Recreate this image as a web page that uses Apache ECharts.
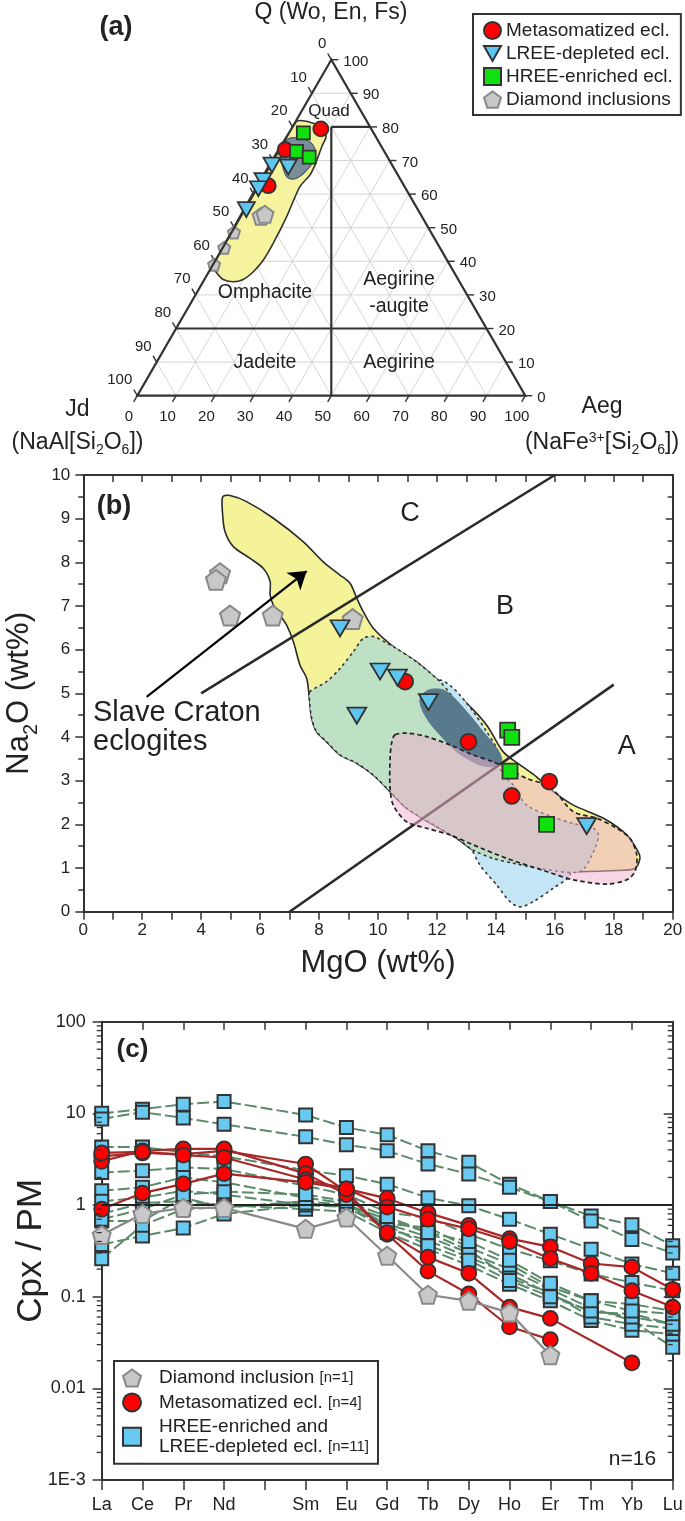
<!DOCTYPE html>
<html>
<head>
<meta charset="utf-8">
<script src="https://cdn.jsdelivr.net/npm/echarts@6.0.0/dist/echarts.min.js"></script>
<style>
html,body{margin:0;padding:0;background:#ffffff;}
#chart{width:685px;height:1521px;}
</style>
</head>
<body>
<div id="chart"></div>
<script>
// ================= DATA =================
// ---- Panel (a): ternary diagram, compositions as [Q, Jd, Aeg] (%)
const ternTicks = [0,10,20,30,40,50,60,70,80,90,100];
const ternTickLabels = ['0','10','20','30','40','50','60','70','80','90','100'];
const aMetasomatized = [[79.4,13.0,7.6],[73.2,25.3,1.5],[62.5,35.0,2.5]];
const aHREEenriched  = [[78.2,18.1,3.7],[72.7,22.6,4.7],[71.0,20.2,8.8]];
const aLREEdepleted  = [[68.6,31.0,0.4],[68.0,27.1,4.9],[64.0,35.6,0.4],[61.6,38.0,0.4],[55.4,44.2,0.4]];
const aDiamond       = [[53.4,41.4,5.2],[54.0,40.1,5.9],[48.6,50.8,0.6],[44.0,55.6,0.4],[39.0,60.7,0.3]];
const aSlaveField = [[81.5,18.3,0.2],[81.1,14.1,4.8],[79.6,12.3,8.1],[77.1,12.8,10.1],[74.1,15.4,10.5],
  [68.7,19.85,11.45],[65.7,22.65,11.65],[62.2,27.0,10.8],[53.3,34.85,11.85],[45.4,42.25,12.35],
  [40.4,47.3,12.3],[36.9,51.65,11.45],[34.6,55.4,10.0],[33.9,58.3,7.8],[34.6,60.54,4.86],
  [36.4,61.2,2.4],[38.6,61.2,0.2]];
const aDarkField = [[76.4,22.96,0.64],[76.7,19.72,3.58],[75.5,17.74,6.76],[73.1,17.65,9.25],
  [69.6,19.92,10.48],[66.3,23.89,9.81],[64.5,27.36,8.14],[65.1,28.87,6.03],[67.8,28.55,3.65],
  [70.7,27.61,1.69],[73.7,25.86,0.44]];
const aBoundaries = [[[80,10,10],[80,0,20]],[[20,80,0],[20,0,80]],[[80,10,10],[0,50,50]]];
const aLegendNames = ['Metasomatized ecl.','LREE-depleted ecl.','HREE-enriched ecl.','Diamond inclusions'];

// ---- Panel (b): MgO (wt%) vs Na2O (wt%)
const bMetasomatized = [[10.92,5.27],[13.07,3.89],[14.54,2.65],[15.81,2.98]];
const bLREEdepleted  = [[8.71,6.49],[10.07,5.50],[10.66,5.36],[11.71,4.80],[9.28,4.49],[17.08,1.96]];
const bHREEenriched  = [[14.40,4.16],[14.54,3.99],[14.48,3.22],[15.72,2.00]];
const bDiamond       = [[4.64,7.75],[4.50,7.60],[4.98,6.78],[6.43,6.78],[9.14,6.70]];
const bDivideCB = [[4,5],[16,10]];
const bDivideBA = [[7,0],[18,5.2]];
const bArrow = [[2.15,4.92],[7.58,7.80]];
const bSlaveField = [[4.73,9.50],[4.98,9.53],[5.54,9.39],[6.45,9.01],[7.47,8.47],[8.14,8.01],[8.71,7.71],
  [9.05,7.52],[9.28,7.18],[9.50,6.87],[9.84,6.49],[10.52,6.07],[11.31,5.72],[12.10,5.27],[13.01,4.77],
  [13.69,4.27],[14.25,3.66],[14.82,3.36],[15.38,3.09],[15.95,2.75],[16.63,2.44],[17.65,2.14],[18.44,1.76],
  [18.83,1.37],[18.89,1.22],[18.72,0.99],[18.33,0.95],[16.63,0.92],[15.50,0.99],[14.59,1.11],[13.91,1.22],
  [13.23,1.41],[12.67,1.68],[11.88,1.99],[10.97,2.37],[10.41,2.75],[9.84,3.13],[9.28,3.40],[8.71,3.59],
  [8.26,3.89],[7.92,4.12],[7.75,4.43],[7.67,4.89],[7.58,5.34],[7.35,5.65],[7.13,6.18],[6.90,6.56],
  [6.67,6.79],[6.45,7.02],[6.34,7.25],[6.34,7.56],[6.11,7.86],[5.66,8.09],[5.09,8.36],[4.81,8.70],[4.73,9.08]];
const bBlueField = [[12.10,5.30],[12.50,5.15],[12.78,4.96],[13.23,4.58],[13.69,4.12],[14.03,3.74],[14.15,3.45],
  [13.80,3.00],[15.50,1.50],[16.30,1.10],[16.52,0.84],[15.95,0.54],[15.27,0.23],[14.82,0.11],[14.48,0.23],
  [14.03,0.61],[13.46,1.07],[13.12,1.53],[12.50,2.50],[11.80,4.00],[11.60,5.00]];
const bGreenField = [[7.69,5.04],[8.26,5.27],[8.71,5.57],[9.16,5.95],[9.50,6.26],[9.84,6.30],[10.30,6.15],
  [10.52,6.07],[11.31,5.72],[12.10,5.27],[12.50,4.95],[13.10,4.35],[13.60,3.85],[14.00,3.45],[14.30,3.10],
  [14.59,2.90],[15.05,2.44],[16.06,2.14],[16.63,2.02],[17.31,1.91],[17.48,1.76],[17.31,1.37],[16.86,0.92],
  [15.50,0.99],[14.59,1.11],[13.91,1.22],[13.23,1.41],[12.67,1.68],[11.88,1.99],[10.97,2.37],[10.41,2.75],
  [9.84,3.13],[9.28,3.40],[8.71,3.59],[8.26,3.89],[7.92,4.12],[7.75,4.43],[7.67,4.89]];
const bDarkField = [[11.88,5.10],[12.33,5.04],[13.01,4.58],[13.57,4.12],[14.03,3.74],[14.20,3.51],[14.14,3.40],
  [13.91,3.32],[13.50,3.35],[13.23,3.43],[12.67,3.66],[12.10,4.05],[11.65,4.43],[11.42,4.81],[11.54,5.00]];
const bDashedField = [[10.58,4.05],[10.97,4.09],[11.65,4.01],[12.44,3.82],[13.23,3.59],[13.91,3.43],[14.59,3.21],
  [15.05,3.05],[15.72,2.90],[16.06,2.71],[16.63,2.29],[17.42,2.14],[18.10,1.91],[18.55,1.68],[18.78,1.30],
  [18.72,0.92],[18.44,0.73],[17.76,0.63],[16.63,0.73],[15.72,0.92],[14.37,1.22],[13.23,1.53],[12.44,1.76],
  [11.65,1.91],[10.97,2.06],[10.52,2.44],[10.41,2.83],[10.41,3.51],[10.47,3.89]];

// ---- Panel (c): Cpx / primitive mantle REE patterns
const cElements = ['La','Ce','Pr','Nd','Pm','Sm','Eu','Gd','Tb','Dy','Ho','Er','Tm','Yb','Lu'];
const cYTickLabels = ['1E-3','0.01','0.1','1','10','100'];
const cDiamond = [0.47,0.80,0.93,0.93,null,0.55,0.73,0.28,0.105,0.090,0.067,0.023,null,null,null];
const cMetasomatized = [
  [3.4,3.7,3.6,3.9,null,2.8,1.4,0.48,0.19,0.107,0.047,0.034,null,null,null],
  [3.0,3.9,4.1,4.1,null,2.2,1.3,0.50,0.27,0.18,0.077,0.058,null,0.019,null],
  [3.7,3.8,3.5,3.3,null,1.9,1.5,1.18,0.82,0.60,0.43,0.35,0.23,0.21,0.12],
  [0.9,1.35,1.7,2.2,null,1.77,1.5,0.95,0.70,0.55,0.40,0.26,0.18,0.116,0.077]
];
const cHREEandLREE = [
  [10.0,11.1,12.6,13.5,null,9.6,7.0,5.85,3.9,2.92,1.69,1.09,0.76,0.61,0.36],
  [8.7,10.3,8.9,7.6,null,5.55,4.55,3.9,2.8,2.18,1.56,1.09,0.67,0.42,0.30],
  [4.3,4.3,3.76,3.4,null,2.4,2.09,1.69,1.2,0.98,0.70,0.48,0.33,0.227,0.18],
  [2.27,2.37,2.57,2.47,null,1.62,1.30,0.83,0.73,0.48,0.33,0.247,0.177,0.143,0.116],
  [1.43,1.56,2.0,1.77,null,1.2,1.04,0.62,0.57,0.345,0.227,0.127,0.09,0.083,0.07],
  [1.1,1.2,1.43,1.3,null,1.0,0.95,0.55,0.41,0.27,0.177,0.107,0.068,0.065,0.05],
  [0.8,1.05,1.1,1.0,null,0.9,0.85,0.50,0.33,0.22,0.137,0.09,0.055,0.043,0.039],
  [0.67,0.67,1.2,0.94,null,1.1,1.0,0.62,0.45,0.30,0.20,0.12,0.075,0.055,0.028],
  [0.37,0.46,0.56,0.8,null,1.0,1.0,0.70,0.50,0.32,0.16,0.11,0.06,0.05,0.045],
  [0.26,0.60,0.90,0.95,null,1.05,0.95,0.60,0.36,0.25,0.15,0.10,0.07,0.06,0.05],
  [0.70,0.90,1.30,1.40,null,1.30,1.10,0.75,0.50,0.40,0.25,0.14,0.09,0.07,0.065]
];
const cLegendNames = ['Diamond inclusion','Metasomatized ecl.','HREE-enriched and LREE-depleted ecl.'];
const cLegendText = ['Diamond inclusion','Metasomatized ecl.','HREE-enriched and\nLREE-depleted ecl.'];
const cCounts = [1,4,11];
const cTotal = 16;

// ================= STYLE / HELPERS =================
const FONT = '"Liberation Sans", Arial, Helvetica, sans-serif';
const INK = '#222';
const S3 = Math.sqrt(3) / 2;
const ternXY = p => [p[2] + p[0] / 2, p[0] * S3];
const PENT = 'path://M50,2 L97,36 L79,92 L21,92 L3,36 Z';
const TRI_DOWN = 'path://M0,0 L100,0 L50,88 Z';
const RED = '#ff0000', GREEN = '#10e010', TBLUE = '#5cc6f0', SQBLUE = '#68c9f1', GRAY = '#c8c8c8';

function polySeries(pts, xi, yi, style, z, smooth) {
  return {
    type: 'custom', xAxisIndex: xi, yAxisIndex: yi, z: z, silent: true, clip: false,
    data: pts, encode: {x: 0, y: 1},
    renderItem: function (params, api) {
      if (params.dataIndex !== 0) return null;
      return {type: 'polygon', shape: {points: pts.map(p => api.coord(p)), smooth: smooth || 0}, style: style};
    }
  };
}

const axisLineStyle = {color: '#333', width: 2};
const tickStyle = {color: '#333', width: 1.5};

// ---- ternary pieces
const ternGridSeries = {
  type: 'custom', xAxisIndex: 0, yAxisIndex: 0, z: 1, silent: true, clip: false,
  data: ternTicks.map(k => [k, 0]), encode: {x: 0, y: 1},
  renderItem: function (params, api) {
    const k = ternTicks[params.dataIndex];
    const lab = ternTickLabels[params.dataIndex];
    const P = p => api.coord(ternXY(p));
    const ch = [];
    if (k > 0 && k < 100) {
      [[[k,100-k,0],[k,0,100-k]], [[100-k,k,0],[0,k,100-k]], [[100-k,0,k],[0,100-k,k]]].forEach(s => {
        const a = P(s[0]), b = P(s[1]);
        ch.push({type: 'line', shape: {x1: a[0], y1: a[1], x2: b[0], y2: b[1]}, style: {stroke: '#d0d0d0', lineWidth: 0.9}});
      });
    }
    const L = P([100-k, k, 0]);
    ch.push({type: 'line', z2: 5, shape: {x1: L[0], y1: L[1], x2: L[0]-3.6, y2: L[1]-6.2}, style: {stroke: '#333', lineWidth: 1.4}});
    ch.push({type: 'text', z2: 5, x: L[0]-5, y: L[1]-15.7, style: {text: lab, fontSize: 15, fontFamily: FONT, fill: INK, align: 'right', verticalAlign: 'middle'}});
    const R = P([k, 0, 100-k]);
    ch.push({type: 'line', z2: 5, shape: {x1: R[0], y1: R[1], x2: R[0]+7, y2: R[1]}, style: {stroke: '#333', lineWidth: 1.4}});
    ch.push({type: 'text', z2: 5, x: R[0]+12, y: R[1]+2, style: {text: lab, fontSize: 15, fontFamily: FONT, fill: INK, align: 'left', verticalAlign: 'middle'}});
    const B = P([0, 100-k, k]);
    ch.push({type: 'line', z2: 5, shape: {x1: B[0], y1: B[1], x2: B[0]-3.6, y2: B[1]+6.2}, style: {stroke: '#333', lineWidth: 1.4}});
    ch.push({type: 'text', z2: 5, x: B[0]-8.5, y: B[1]+21, style: {text: lab, fontSize: 15, fontFamily: FONT, fill: INK, align: 'center', verticalAlign: 'middle'}});
    return {type: 'group', children: ch};
  }
};

const ternFrameSeries = {
  type: 'custom', xAxisIndex: 0, yAxisIndex: 0, z: 4, silent: true, clip: false,
  data: [[0, 0]], encode: {x: 0, y: 1},
  renderItem: function (params, api) {
    const P = p => api.coord(ternXY(p));
    const ch = [{type: 'polygon', shape: {points: [P([100,0,0]), P([0,100,0]), P([0,0,100])]}, style: {fill: 'none', stroke: '#333', lineWidth: 2.2}}];
    aBoundaries.forEach(s => {
      const a = P(s[0]), b = P(s[1]);
      ch.push({type: 'line', shape: {x1: a[0], y1: a[1], x2: b[0], y2: b[1]}, style: {stroke: '#333', lineWidth: 2.2}});
    });
    return {type: 'group', children: ch};
  }
};

// ---- (c) log minor ticks
const cMinorTicks = [];
for (let d = -3; d <= 1; d++) for (let m = 2; m <= 9; m++) cMinorTicks.push(m * Math.pow(10, d));
const cMinorTickSeries = {
  type: 'custom', xAxisIndex: 3, yAxisIndex: 3, z: 6, silent: true, clip: false,
  data: cMinorTicks.map(v => [0, v]), encode: {x: 0, y: 1},
  renderItem: function (params, api) {
    const v = cMinorTicks[params.dataIndex];
    const a = api.coord([0, v]), b = api.coord([cElements.length - 1, v]);
    return {type: 'group', children: [
      {type: 'line', shape: {x1: a[0], y1: a[1], x2: a[0]-5, y2: a[1]}, style: {stroke: '#333', lineWidth: 1.3}},
      {type: 'line', shape: {x1: b[0], y1: b[1], x2: b[0]-5, y2: b[1]}, style: {stroke: '#333', lineWidth: 1.3}}
    ]};
  }
};

// ================= SERIES =================
const series = [];
// (a)
series.push(ternGridSeries);
series.push(polySeries(aSlaveField.map(ternXY), 0, 0, {fill: '#f5f39e', stroke: '#333', lineWidth: 1.6}, 2, 0.25));
series.push(polySeries(aDarkField.map(ternXY), 0, 0, {fill: '#7a8d99', stroke: '#4d5a63', lineWidth: 1.2}, 2.5, 0.35));
series.push({type: 'scatter', name: 'Diamond inclusions', xAxisIndex: 0, yAxisIndex: 0, z: 3,
  data: aDiamond.map(ternXY), symbol: PENT,
  symbolSize: (v, p) => (aDiamond[p.dataIndex][2] < 1 ? 12 : 17),
  itemStyle: {color: GRAY, borderColor: '#8a8a8a', borderWidth: 2, opacity: 1}});
series.push(ternFrameSeries);
series.push({type: 'scatter', name: 'Metasomatized ecl.', xAxisIndex: 0, yAxisIndex: 0, z: 5,
  data: aMetasomatized.map(ternXY), symbol: 'circle', symbolSize: 15,
  itemStyle: {color: RED, borderColor: '#333', borderWidth: 1.8, opacity: 1}});
series.push({type: 'scatter', name: 'HREE-enriched ecl.', xAxisIndex: 0, yAxisIndex: 0, z: 5,
  data: aHREEenriched.map(ternXY), symbol: 'rect', symbolSize: 13,
  itemStyle: {color: GREEN, borderColor: '#333', borderWidth: 1.8, opacity: 1}});
series.push({type: 'scatter', name: 'LREE-depleted ecl.', xAxisIndex: 0, yAxisIndex: 0, z: 5,
  data: aLREEdepleted.map(ternXY), symbol: TRI_DOWN, symbolSize: [17, 15],
  itemStyle: {color: TBLUE, borderColor: '#333', borderWidth: 1.8, opacity: 1}});

// (b)
series.push(polySeries(bSlaveField, 1, 1, {fill: '#f4f39a', stroke: '#2a2a2a', lineWidth: 1.6}, 1, 0.3));
series.push(polySeries(bBlueField, 1, 1, {fill: '#c4e5f5', stroke: '#333', lineWidth: 1.6, lineDash: [1.6, 4.5], lineCap: 'round'}, 2, 0.3));
series.push(polySeries(bGreenField, 1, 1, {fill: '#bee0c4', stroke: '#333', lineWidth: 1.6, lineDash: [1.6, 4.5], lineCap: 'round'}, 3, 0.3));
series.push(polySeries(bDarkField, 1, 1, {fill: '#587a8c', stroke: '#587a8c', lineWidth: 1}, 4, 0.35));
series.push({type: 'line', xAxisIndex: 1, yAxisIndex: 1, z: 5, data: bDivideCB, showSymbol: false, silent: true,
  lineStyle: {color: '#2a2a2a', width: 2.6}});
series.push({type: 'line', xAxisIndex: 1, yAxisIndex: 1, z: 5, data: bDivideBA, showSymbol: false, silent: true,
  lineStyle: {color: '#2a2a2a', width: 2.6}});
series.push(polySeries(bDashedField, 1, 1, {fill: 'rgba(240,178,205,0.53)', stroke: '#222', lineWidth: 1.7, lineDash: [4.5, 3]}, 6, 0.3));
series.push({type: 'lines', coordinateSystem: 'cartesian2d', xAxisIndex: 1, yAxisIndex: 1, z: 8, silent: true,
  data: [{coords: bArrow}], symbol: ['none', 'arrow'], symbolSize: 17,
  lineStyle: {color: '#000', width: 2.2, opacity: 1}});
series.push({type: 'scatter', name: 'Diamond inclusions', xAxisIndex: 1, yAxisIndex: 1, z: 7,
  data: bDiamond, symbol: PENT, symbolSize: 20,
  itemStyle: {color: GRAY, borderColor: '#888', borderWidth: 2, opacity: 1}});
series.push({type: 'scatter', name: 'Metasomatized ecl.', xAxisIndex: 1, yAxisIndex: 1, z: 7,
  data: bMetasomatized, symbol: 'circle', symbolSize: 16,
  itemStyle: {color: RED, borderColor: '#333', borderWidth: 1.8, opacity: 1}});
series.push({type: 'scatter', name: 'HREE-enriched ecl.', xAxisIndex: 1, yAxisIndex: 1, z: 7,
  data: bHREEenriched, symbol: 'rect', symbolSize: 15,
  itemStyle: {color: GREEN, borderColor: '#333', borderWidth: 1.8, opacity: 1}});
series.push({type: 'scatter', name: 'LREE-depleted ecl.', xAxisIndex: 1, yAxisIndex: 1, z: 7,
  data: bLREEdepleted, symbol: TRI_DOWN, symbolSize: [19, 16],
  itemStyle: {color: TBLUE, borderColor: '#333', borderWidth: 1.8, opacity: 1}});

// (c)
cHREEandLREE.forEach((arr, i) => {
  const s = {type: 'line', name: cLegendNames[2], xAxisIndex: 3, yAxisIndex: 3, z: 3, data: arr, connectNulls: true,
    symbol: 'rect', symbolSize: 13, showAllSymbol: true,
    itemStyle: {color: SQBLUE, borderColor: '#333', borderWidth: 2, opacity: 1},
    lineStyle: {color: '#5a8a6a', width: 2, type: [12, 4]}};
  if (i === 0) s.markLine = {silent: true, symbol: 'none', label: {show: false},
    lineStyle: {color: '#222', width: 2.2, type: 'solid'}, data: [{yAxis: 1}]};
  series.push(s);
});
cMetasomatized.forEach(arr => {
  series.push({type: 'line', name: cLegendNames[1], xAxisIndex: 3, yAxisIndex: 3, z: 4, data: arr, connectNulls: true,
    symbol: 'circle', symbolSize: 15, showAllSymbol: true,
    itemStyle: {color: RED, borderColor: '#333', borderWidth: 1.8, opacity: 1},
    lineStyle: {color: '#a82828', width: 2.2}});
});
series.push({type: 'line', name: cLegendNames[0], xAxisIndex: 3, yAxisIndex: 3, z: 5, data: cDiamond, connectNulls: true,
  symbol: PENT, symbolSize: 18, showAllSymbol: true,
  itemStyle: {color: GRAY, borderColor: '#8a8a8a', borderWidth: 2, opacity: 1},
  lineStyle: {color: '#8a8a8a', width: 2.2}});
series.push(cMinorTickSeries);

// ================= AXES =================
const noSplit = {show: false};
const xAxis = [
  {gridIndex: 0, type: 'value', min: 0, max: 100, show: false},
  {gridIndex: 1, type: 'value', min: 0, max: 20, interval: 2, position: 'bottom',
    axisLine: {show: true, onZero: false, lineStyle: axisLineStyle},
    axisTick: {show: true, inside: false, length: 8, lineStyle: tickStyle},
    minorTick: {show: true, splitNumber: 2, length: 8, lineStyle: tickStyle},
    axisLabel: {fontSize: 17, color: INK, margin: 10, fontFamily: FONT},
    splitLine: noSplit, minorSplitLine: noSplit,
    name: 'MgO (wt%)', nameLocation: 'middle', nameGap: 36, nameMoveOverlap: false,
    nameTextStyle: {fontSize: 31, color: INK, fontFamily: FONT}},
  {gridIndex: 1, type: 'value', min: 0, max: 20, interval: 2, position: 'top',
    axisLine: {show: true, onZero: false, lineStyle: axisLineStyle},
    axisTick: {show: true, inside: true, length: 7, lineStyle: tickStyle},
    minorTick: {show: true, splitNumber: 2, length: 7, lineStyle: tickStyle},
    axisLabel: {show: false}, splitLine: noSplit},
  {gridIndex: 2, type: 'category', data: cElements, boundaryGap: false, position: 'bottom',
    axisLine: {show: true, onZero: false, lineStyle: axisLineStyle},
    axisTick: {show: true, inside: false, length: 10, interval: 0, lineStyle: tickStyle},
    axisLabel: {fontSize: 18, color: INK, margin: 16, interval: 0, fontFamily: FONT,
      formatter: v => (v === 'Pm' ? '' : v)},
    splitLine: noSplit},
  {gridIndex: 2, type: 'category', data: cElements, boundaryGap: false, position: 'top',
    axisLine: {show: true, onZero: false, lineStyle: axisLineStyle},
    axisTick: {show: true, inside: true, length: 8, interval: 0, lineStyle: tickStyle},
    axisLabel: {show: false}, splitLine: noSplit}
];
const yAxis = [
  {gridIndex: 0, type: 'value', min: 0, max: 100 * S3, show: false},
  {gridIndex: 1, type: 'value', min: 0, max: 10, interval: 1, position: 'left',
    axisLine: {show: true, onZero: false, lineStyle: axisLineStyle},
    axisTick: {show: true, inside: false, length: 8, lineStyle: tickStyle},
    minorTick: {show: true, splitNumber: 2, length: 5, lineStyle: tickStyle},
    axisLabel: {fontSize: 17, color: INK, margin: 13, fontFamily: FONT},
    splitLine: noSplit, minorSplitLine: noSplit,
    name: '{a|Na}{s|2}{a|O (wt%)}', nameLocation: 'middle', nameGap: 42, nameMoveOverlap: false,
    nameTextStyle: {color: INK, fontFamily: FONT,
      rich: {a: {fontSize: 31, fontFamily: FONT, color: INK, verticalAlign: 'top', lineHeight: 33},
             s: {fontSize: 20, fontFamily: FONT, color: INK, verticalAlign: 'top', padding: [17, 0, 0, 0]}}}},
  {gridIndex: 1, type: 'value', min: 0, max: 10, interval: 1, position: 'right',
    axisLine: {show: true, onZero: false, lineStyle: axisLineStyle},
    axisTick: {show: true, inside: true, length: 7, lineStyle: tickStyle},
    minorTick: {show: true, splitNumber: 2, length: 5, lineStyle: tickStyle},
    axisLabel: {show: false}, splitLine: noSplit},
  {gridIndex: 2, type: 'log', logBase: 10, min: 0.001, max: 100, position: 'left',
    axisLine: {show: true, onZero: false, lineStyle: axisLineStyle},
    axisTick: {show: true, inside: false, length: 9, lineStyle: tickStyle},
    axisLabel: {fontSize: 18, color: INK, margin: 16, fontFamily: FONT,
      formatter: v => cYTickLabels[Math.round(Math.log10(v)) + 3]},
    splitLine: noSplit,
    name: 'Cpx / PM', nameLocation: 'middle', nameGap: 53, nameMoveOverlap: false,
    nameTextStyle: {fontSize: 35, color: INK, fontFamily: FONT}},
  {gridIndex: 2, type: 'log', logBase: 10, min: 0.001, max: 100, position: 'right',
    axisLine: {show: true, onZero: false, lineStyle: axisLineStyle},
    axisTick: {show: true, inside: true, length: 9, lineStyle: tickStyle},
    axisLabel: {show: false}, splitLine: noSplit}
];

// ================= LEGENDS =================
const aLegendIcons = ['circle', TRI_DOWN, 'rect', PENT];
const aLegendColors = [[RED, '#333'], [TBLUE, '#333'], [GREEN, '#333'], [GRAY, '#8a8a8a']];
const cLegendIcons = [PENT, 'circle', 'rect'];
const cLegendColors = [[GRAY, '#8a8a8a'], [RED, '#333'], [SQBLUE, '#333']];
const legend = [
  {orient: 'vertical', left: 473, top: 14, padding: [7, 8, 6, 10], itemWidth: 17, itemHeight: 17, itemGap: 4,
    borderColor: '#333', borderWidth: 2, selectedMode: false, backgroundColor: '#fff',
    textStyle: {fontSize: 19, color: INK, fontFamily: FONT},
    data: aLegendNames.map((n, i) => ({name: n, icon: aLegendIcons[i],
      itemStyle: {color: aLegendColors[i][0], borderColor: aLegendColors[i][1], borderWidth: 2, opacity: 1}}))},
  {orient: 'vertical', left: 114, top: 1361, padding: [7, 9, 7, 8], itemWidth: 18, itemHeight: 18, itemGap: 4.4,
    borderColor: '#333', borderWidth: 2, selectedMode: false, backgroundColor: '#fff',
    textStyle: {fontSize: 19, color: INK, fontFamily: FONT, lineHeight: 20, padding: [0, 0, 0, 13],
      rich: {t: {fontSize: 19, lineHeight: 20, fontFamily: FONT, color: INK},
             n: {fontSize: 15, lineHeight: 20, fontFamily: FONT, color: INK}}},
    formatter: function (name) {
      const i = cLegendNames.indexOf(name);
      const lines = cLegendText[i].split('\n');
      const last = lines.length - 1;
      return lines.map((l, j) => '{t|' + l + '}' + (j === last ? ' {n|[n=' + cCounts[i] + ']}' : '')).join('\n');
    },
    data: cLegendNames.map((n, i) => ({name: n, icon: cLegendIcons[i],
      itemStyle: {color: cLegendColors[i][0], borderColor: cLegendColors[i][1], borderWidth: 2, opacity: 1}}))}
];

// ================= TEXT =================
function txt(x, y, text, size, extra) {
  return Object.assign({type: 'text', x: x, y: y, z: 100, silent: true,
    style: Object.assign({text: text, fontSize: size, fontFamily: FONT, fill: INK, align: 'center', verticalAlign: 'middle'}, extra || {})});
}
const subRich = (big, small, pad) => ({
  a: {fontSize: big, fontFamily: FONT, fill: INK, verticalAlign: 'top', lineHeight: big + 2},
  s: {fontSize: small, fontFamily: FONT, fill: INK, verticalAlign: 'top', padding: [pad, 0, 0, 0]},
  u: {fontSize: small, fontFamily: FONT, fill: INK, verticalAlign: 'top'}
});
const graphic = [
  txt(116, 28, '(a)', 27, {fontWeight: 'bold'}),
  txt(331, 12.5, 'Q (Wo, En, Fs)', 23),
  txt(329, 111, 'Quad', 17),
  txt(265, 293, 'Omphacite', 19.5),
  txt(399, 280, 'Aegirine', 19.5),
  txt(399, 307, '-augite', 19.5),
  txt(265, 363, 'Jadeite', 19.5),
  txt(399, 363, 'Aegirine', 19.5),
  txt(77.5, 410, 'Jd', 23),
  txt(602, 407, 'Aeg', 23),
  txt(77.5, 444, '{a|(NaAl[Si}{s|2}{a|O}{s|6}{a|])}', 23, {rich: subRich(23, 14, 12)}),
  txt(602, 444, '{a|(NaFe}{u|3+}{a|[Si}{s|2}{a|O}{s|6}{a|])}', 23, {rich: subRich(23, 14, 12)}),
  txt(114, 506.7, '(b)', 27, {fontWeight: 'bold'}),
  txt(410, 513.3, 'C', 27),
  txt(505, 606.7, 'B', 27),
  txt(626.7, 746.7, 'A', 27),
  txt(93, 713.3, 'Slave Craton', 29, {align: 'left'}),
  txt(93, 741.7, 'eclogites', 29, {align: 'left'}),
  txt(132.5, 1050, '(c)', 26, {fontWeight: 'bold'}),
  txt(632.5, 1459, 'n=' + cTotal, 21)
];

const option = {
  animation: false,
  backgroundColor: '#ffffff',
  textStyle: {fontFamily: FONT},
  grid: [
    {left: 137.3, top: 59.7, width: 388, height: 336, outerBoundsMode: 'none'},
    {left: 83.3, top: 475, width: 589.4, height: 436.7, outerBoundsMode: 'none'},
    {left: 101.7, top: 1021.7, width: 571, height: 458.3, outerBoundsMode: 'none'}
  ],
  xAxis: xAxis,
  yAxis: yAxis,
  legend: legend,
  graphic: graphic,
  series: series
};

const chart = echarts.init(document.getElementById('chart'), null, {renderer: 'canvas', width: 685, height: 1521});
chart.setOption(option);
</script>
</body>
</html>
